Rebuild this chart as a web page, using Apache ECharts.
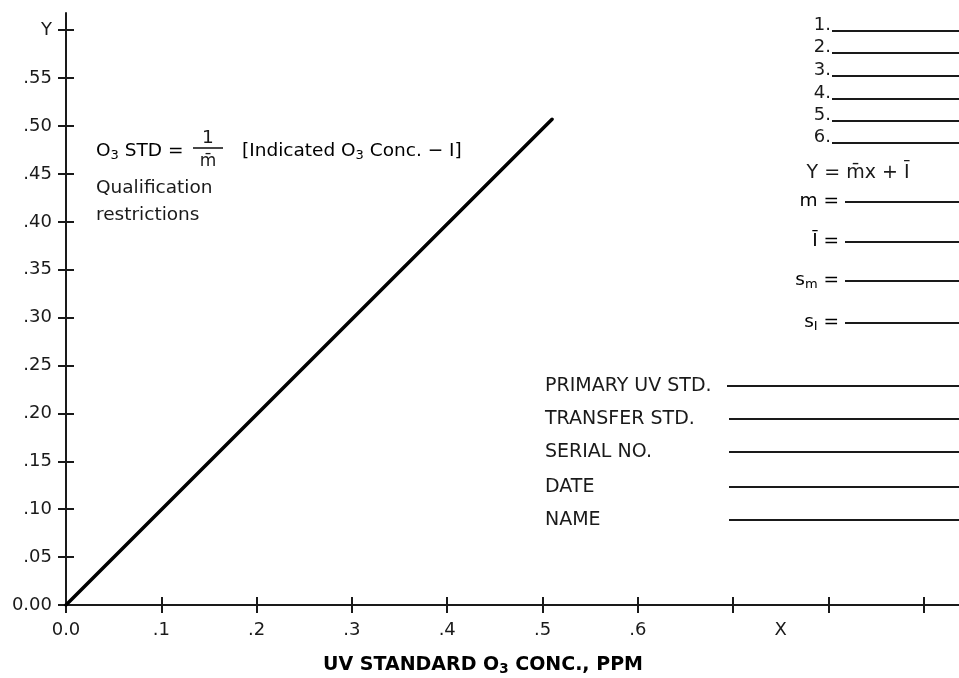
<!DOCTYPE html>
<html>
<head>
<meta charset="utf-8">
<title>UV Standard O3 Calibration</title>
<script src="https://cdn.jsdelivr.net/npm/echarts@6/dist/echarts.min.js"></script>
<style>
  html, body { margin: 0; padding: 0; background: #ffffff; }
  #chart { width: 959px; height: 678px; }
</style>
</head>
<body>
<div id="chart"></div>
<script>
// Axis ticks and their labels
const xTickValues = [0, 0.1, 0.2, 0.3, 0.4, 0.5, 0.6, 0.7, 0.8, 0.9];
const xLabelValues = [0, 0.1, 0.2, 0.3, 0.4, 0.5, 0.6, 0.75];
const xLabelText = ['0.0', '.1', '.2', '.3', '.4', '.5', '.6', 'X'];
const yTickValues = [0, 0.05, 0.1, 0.15, 0.2, 0.25, 0.3, 0.35, 0.4, 0.45, 0.5, 0.55, 0.6];
const yLabelText = ['0.00', '.05', '.10', '.15', '.20', '.25', '.30', '.35', '.40', '.45', '.50', '.55', 'Y'];

// Calibration line (UV standard conc. vs indicated conc.)
const lineX = [0, 0.51];
const lineY = [0, 0.507];

// Form fields on the right-hand side
const entryNumbers = ['1.', '2.', '3.', '4.', '5.', '6.'];
const recordLabels = ['PRIMARY UV STD.', 'TRANSFER STD.', 'SERIAL NO.', 'DATE', 'NAME'];

const FONT = '"DejaVu Sans", Verdana, sans-serif';
const INK = '#1a1a1a';
const FS = 18;      // tick labels
const FA = 18.5;    // annotation text
const FF = 19;      // form labels

function lookup(values, texts, v) {
  for (let i = 0; i < values.length; i++) {
    if (Math.abs(values[i] - v) < 1e-6) return texts[i];
  }
  return '';
}

const chart = echarts.init(document.getElementById('chart'), null, { renderer: 'canvas' });

const axisLineStyle = { color: INK, width: 2 };
const tickStyle = { color: INK, width: 2 };

const xCommon = {
  type: 'value', min: 0, max: 0.937, gridIndex: 0, position: 'bottom', offset: 0,
  splitLine: { show: false }
};
const yCommon = {
  type: 'value', min: 0, max: 0.618, gridIndex: 0, position: 'left', offset: 0,
  splitLine: { show: false }
};

// rich text styles for subscripts
const rich = {
  n: { fontFamily: FONT, fontSize: FA, color: INK },
  sub: { fontFamily: FONT, fontSize: 13, color: INK, padding: [9, 0, 0, 0] },
  b: { fontFamily: FONT, fontSize: FF, color: INK, fontWeight: 'bold' },
  bsub: { fontFamily: FONT, fontSize: 13.5, color: INK, fontWeight: 'bold', padding: [9, 0, 0, 0] }
};

const graphics = [];

// Equation and notes, upper left
graphics.push({
  type: 'text', left: 96, top: 142,
  style: { text: '{n|O}{sub|3}{n| STD =}', rich: rich }
});
graphics.push({
  type: 'text', x: 208, y: 138,
  style: { text: '1', fill: INK, font: FA + 'px ' + FONT, align: 'center', verticalAlign: 'middle' }
});
graphics.push({
  type: 'line', shape: { x1: 193, y1: 148, x2: 223, y2: 148 },
  style: { stroke: INK, lineWidth: 1.6 }
});
graphics.push({
  type: 'text', x: 208, y: 162,
  style: { text: 'm\u0304', fill: INK, font: '17px ' + FONT, align: 'center', verticalAlign: 'middle' }
});
graphics.push({
  type: 'text', left: 242, top: 142,
  style: { text: '{n|[Indicated O}{sub|3}{n| Conc. \u2212 I]}', rich: rich }
});
graphics.push({
  type: 'text', x: 96, y: 188,
  style: { text: 'Qualification', fill: INK, font: FA + 'px ' + FONT, verticalAlign: 'middle' }
});
graphics.push({
  type: 'text', x: 96, y: 215,
  style: { text: 'restrictions', fill: INK, font: FA + 'px ' + FONT, verticalAlign: 'middle' }
});

// Numbered entry lines
const entryLineY = [31, 53, 76, 99, 121, 143];
entryNumbers.forEach((t, i) => {
  graphics.push({
    type: 'text', x: 831, y: entryLineY[i] - 6,
    style: { text: t, fill: INK, font: FS + 'px ' + FONT, align: 'right', verticalAlign: 'middle' }
  });
  graphics.push({
    type: 'line', shape: { x1: 832, y1: entryLineY[i], x2: 959, y2: entryLineY[i] },
    style: { stroke: INK, lineWidth: 2 }
  });
});

// Regression equation
graphics.push({
  type: 'text', x: 858, y: 173,
  style: { text: 'Y = m\u0304x + \u012A', fill: INK, font: FF + 'px ' + FONT, align: 'center', verticalAlign: 'middle' }
});

// Statistics fields
const statRows = [
  { text: '{n|m =}', y: 202 },
  { text: '{n|\u012A =}', y: 242 },
  { text: '{n|s}{sub|m}{n| =}', y: 281 },
  { text: '{n|s}{sub|I}{n| =}', y: 323 }
];
statRows.forEach(r => {
  graphics.push({
    type: 'text', right: 959 - 839, top: r.y - 10,
    style: { text: r.text, rich: rich }
  });
  graphics.push({
    type: 'line', shape: { x1: 845, y1: r.y, x2: 959, y2: r.y },
    style: { stroke: INK, lineWidth: 2 }
  });
});

// Record fields
const recordY = [386, 419, 452, 487, 520];
const recordLineStart = [727, 729, 729, 729, 729];
recordLabels.forEach((t, i) => {
  graphics.push({
    type: 'text', x: 545, y: recordY[i],
    style: { text: t, fill: INK, font: FF + 'px ' + FONT, verticalAlign: 'middle' }
  });
  graphics.push({
    type: 'line', shape: { x1: recordLineStart[i], y1: recordY[i], x2: 959, y2: recordY[i] },
    style: { stroke: INK, lineWidth: 2 }
  });
});

// Axis title
graphics.push({
  type: 'text', x: 483, y: 665,
  style: { text: '{b|UV STANDARD O}{bsub|3}{b| CONC., PPM}', rich: rich, align: 'center', verticalAlign: 'middle' }
});

const option = {
  backgroundColor: '#ffffff',
  animation: false,
  grid: { left: 66, right: 0, top: 13, bottom: 73, containLabel: false },
  xAxis: [
    Object.assign({}, xCommon, {
      axisLine: { show: true, onZero: false, lineStyle: axisLineStyle },
      axisTick: { show: true, inside: false, length: 8, lineStyle: tickStyle, customValues: xTickValues },
      axisLabel: {
        show: true, margin: 16, color: INK, fontFamily: FONT, fontSize: FS,
        customValues: xLabelValues,
        formatter: v => lookup(xLabelValues, xLabelText, v)
      }
    }),
    Object.assign({}, xCommon, {
      axisLine: { show: false, onZero: false },
      axisTick: { show: true, inside: true, length: 8, lineStyle: tickStyle, customValues: xTickValues },
      axisLabel: { show: false }
    })
  ],
  yAxis: [
    Object.assign({}, yCommon, {
      axisLine: { show: true, onZero: false, lineStyle: axisLineStyle },
      axisTick: { show: true, inside: false, length: 8, lineStyle: tickStyle, customValues: yTickValues },
      axisLabel: {
        show: true, margin: 14, color: INK, fontFamily: FONT, fontSize: FS,
        customValues: yTickValues,
        formatter: v => lookup(yTickValues, yLabelText, v)
      }
    }),
    Object.assign({}, yCommon, {
      axisLine: { show: false, onZero: false },
      axisTick: { show: true, inside: true, length: 8, lineStyle: tickStyle, customValues: yTickValues },
      axisLabel: { show: false }
    })
  ],
  series: [{
    type: 'line',
    xAxisIndex: 0, yAxisIndex: 0,
    data: lineX.map((x, i) => [x, lineY[i]]),
    showSymbol: false,
    symbol: 'none',
    lineStyle: { color: '#000000', width: 3.5, cap: 'round' },
    z: 3
  }],
  graphic: graphics
};

chart.setOption(option);
</script>
</body>
</html>
